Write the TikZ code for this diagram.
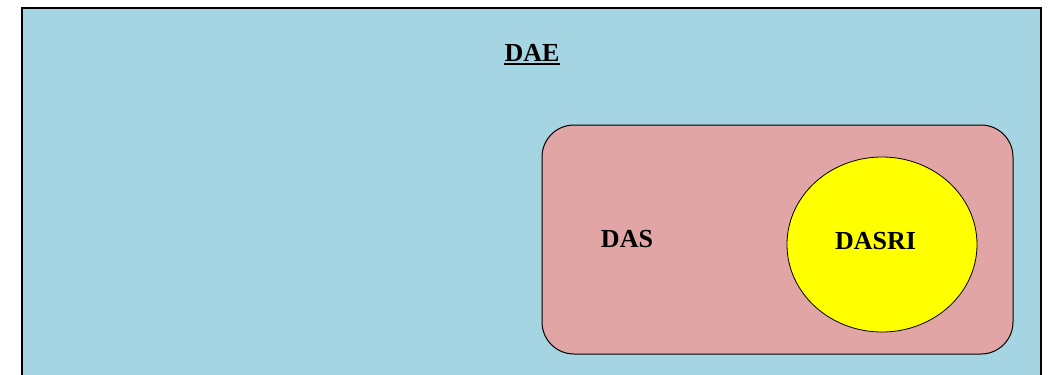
\documentclass[tikz,border=0pt]{standalone}
\usepackage{fontspec}
\setmainfont{Liberation Serif}
\usetikzlibrary{shapes.geometric}
\definecolor{daeblue}{RGB}{165,213,227}
\definecolor{daspink}{RGB}{225,165,165}
\definecolor{dasriyellow}{RGB}{255,255,0}
\tikzset{
  setlabel/.style={font=\fontsize{26}{30}\selectfont\bfseries, inner sep=0pt},
}
\begin{document}
\begin{tikzpicture}[x=1pt,y=-1pt]
	\useasboundingbox (0,0) rectangle (1053,375);
	\clip (0,0) rectangle (1053,375);
	% outer set
	\draw[line width=2pt, fill=daeblue] (22,8) rectangle (1041,395);
	\node[setlabel, anchor=base] (dae) at (532,61) {DAE};
	\draw[line width=1.8pt] ([yshift=-3pt]dae.base west) -- ([yshift=-3pt]dae.base east);
	% DAS
	\draw[line width=1pt, fill=daspink, rounded corners=32pt] (542,125) rectangle (1013,354);
	\node[setlabel, anchor=base] (das) at (627,247) {DAS};
	% DASRI
	\node[draw, line width=0.8pt, fill=dasriyellow, ellipse, minimum width=190pt, minimum height=175pt, inner sep=0pt] (dasri) at (882,244.5) {};
	\node[setlabel, anchor=base] (dasrilabel) at (875.5,249) {DASRI};
\end{tikzpicture}
\end{document}
